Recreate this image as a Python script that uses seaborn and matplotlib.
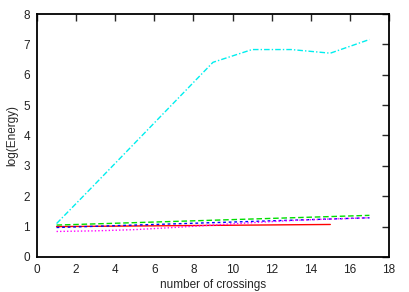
import matplotlib
matplotlib.use("Agg")
import matplotlib.pyplot as plt
import seaborn as sns

sns.set_style("white")
plt.rcParams["font.family"] = ["Liberation Sans", "DejaVu Sans"]

# number of crossings
crossings = [1, 3, 5, 7, 9, 11, 13, 15, 17]

# log(Energy) per series
red_vals = [1.00, 1.01, 1.02, 1.03, 1.04, 1.05, 1.06, 1.07]
green_vals = [1.05, 1.09, 1.13, 1.17, 1.21, 1.25, 1.29, 1.33, 1.37]
blue_vals = [0.97, 1.01, 1.05, 1.09, 1.13, 1.17, 1.21, 1.25, 1.29]
magenta_vals = [0.84, 0.86, 0.90, 0.97, 1.05, 1.13, 1.20, 1.25, 1.29]
cyan_vals = [1.10, 2.42, 3.75, 5.08, 6.41, 6.83, 6.83, 6.71, 7.16]

fig = plt.figure(figsize=(4.09, 2.92), dpi=100)
ax = fig.add_axes([0.0905, 0.12, 0.8605, 0.832])

series = [
    (red_vals, "#ff0000", "-"),
    (green_vals, "#00dd00", (0, (4, 2))),
    (blue_vals, "#0000ff", (0, (2, 2))),
    (magenta_vals, "#ff00ff", (0, (1, 1.5))),
    (cyan_vals, "#00eeee", (0, (4, 1.5, 1, 1.5))),
]
for vals, color, ls in series:
    sns.lineplot(x=crossings[:len(vals)], y=vals, color=color,
                 linestyle=ls, linewidth=1.0, ax=ax)

ax.set_xlim(0, 18)
ax.set_ylim(0, 8)
ax.set_xticks(range(0, 19, 2))
ax.set_yticks(range(0, 9))
ax.tick_params(direction="in", length=5, width=1, labelsize=8.5,
               top=True, right=True, labeltop=False, labelright=False,
               pad=5, labelcolor="#222222")
for sp in ax.spines.values():
    sp.set_linewidth(1.3)
    sp.set_color("black")
ax.set_xlabel("number of crossings", fontsize=8.5, labelpad=2)
ax.set_ylabel("log(Energy)", fontsize=8.5, labelpad=4)

fig.savefig("out.png", dpi=100)
